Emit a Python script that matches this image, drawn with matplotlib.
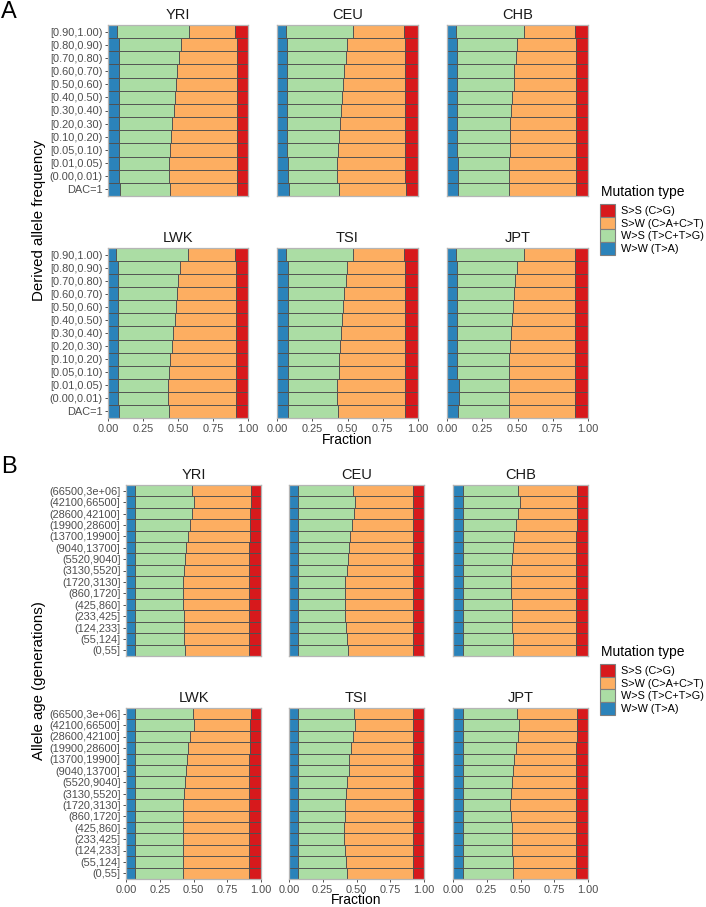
import numpy as np
import matplotlib
matplotlib.use("Agg")
import matplotlib.pyplot as plt
from matplotlib.patches import Patch

plt.rcParams['font.family'] = ['Liberation Sans', 'DejaVu Sans']

# === Categories (top row first) ===
freq_bins = ["[0.90,1.00)", "[0.80,0.90)", "[0.70,0.80)", "[0.60,0.70)", "[0.50,0.60)",
             "[0.40,0.50)", "[0.30,0.40)", "[0.20,0.30)", "[0.10,0.20)", "[0.05,0.10)",
             "[0.01,0.05)", "(0.00,0.01)", "DAC=1"]
age_bins = ["(66500,3e+06]", "(42100,66500]", "(28600,42100]", "(19900,28600]",
            "(13700,19900]", "(9040,13700]", "(5520,9040]", "(3130,5520]", "(1720,3130]",
            "(860,1720]", "(425,860]", "(233,425]", "(124,233]", "(55,124]", "(0,55]"]
pops = ["YRI", "CEU", "CHB", "LWK", "TSI", "JPT"]

type_labels = ["W>W (T>A)", "W>S (T>C+T>G)", "S>W (C>A+C>T)", "S>S (C>G)"]
type_colors = ["#2B83BA", "#ABDDA4", "#FDAE61", "#D7191C"]

# === Panel A: fractions by derived allele frequency ===
# W>W (T>A)
freq_ww = {
    "YRI": [0.064, 0.075, 0.075, 0.075, 0.075, 0.075, 0.075, 0.075, 0.075, 0.075, 0.075, 0.075, 0.087],
    "CEU": [0.064, 0.071, 0.071, 0.071, 0.071, 0.071, 0.071, 0.071, 0.071, 0.071, 0.078, 0.078, 0.087],
    "CHB": [0.062, 0.071, 0.071, 0.071, 0.071, 0.071, 0.071, 0.071, 0.071, 0.071, 0.078, 0.078, 0.076],
    "LWK": [0.059, 0.071, 0.071, 0.071, 0.071, 0.071, 0.071, 0.071, 0.071, 0.071, 0.071, 0.071, 0.078],
    "TSI": [0.064, 0.075, 0.075, 0.075, 0.075, 0.075, 0.075, 0.075, 0.075, 0.075, 0.075, 0.075, 0.080],
    "JPT": [0.064, 0.069, 0.069, 0.069, 0.069, 0.069, 0.069, 0.069, 0.069, 0.069, 0.083, 0.083, 0.078],
}
# W>S (T>C+T>G)
freq_ws = {
    "YRI": [0.512, 0.445, 0.431, 0.421, 0.412, 0.405, 0.396, 0.384, 0.374, 0.367, 0.360, 0.358, 0.358],
    "CEU": [0.477, 0.428, 0.416, 0.407, 0.400, 0.393, 0.385, 0.378, 0.371, 0.364, 0.350, 0.350, 0.355],
    "CHB": [0.483, 0.427, 0.417, 0.405, 0.401, 0.391, 0.384, 0.379, 0.375, 0.375, 0.365, 0.363, 0.365],
    "LWK": [0.515, 0.444, 0.428, 0.421, 0.414, 0.404, 0.395, 0.383, 0.373, 0.364, 0.359, 0.357, 0.355],
    "TSI": [0.477, 0.421, 0.412, 0.403, 0.396, 0.389, 0.381, 0.374, 0.367, 0.363, 0.353, 0.351, 0.353],
    "JPT": [0.480, 0.427, 0.416, 0.404, 0.397, 0.390, 0.383, 0.378, 0.373, 0.373, 0.357, 0.357, 0.362],
}
# S>S (C>G)
freq_ss = {
    "YRI": [0.094, 0.082, 0.082, 0.082, 0.082, 0.082, 0.082, 0.082, 0.082, 0.082, 0.082, 0.082, 0.082],
    "CEU": [0.096, 0.089, 0.089, 0.089, 0.089, 0.089, 0.089, 0.089, 0.089, 0.089, 0.089, 0.089, 0.085],
    "CHB": [0.092, 0.088, 0.088, 0.088, 0.088, 0.088, 0.088, 0.088, 0.088, 0.088, 0.088, 0.088, 0.083],
    "LWK": [0.095, 0.087, 0.087, 0.087, 0.087, 0.087, 0.087, 0.087, 0.087, 0.087, 0.087, 0.087, 0.087],
    "TSI": [0.099, 0.089, 0.089, 0.089, 0.089, 0.089, 0.089, 0.089, 0.089, 0.089, 0.089, 0.089, 0.089],
    "JPT": [0.095, 0.090, 0.090, 0.090, 0.090, 0.090, 0.090, 0.090, 0.090, 0.090, 0.090, 0.090, 0.090],
}

# === Panel B: fractions by allele age ===
age_ww = {
    "YRI": [0.067] * 15,
    "CEU": [0.069] * 15,
    "CHB": [0.074] * 15,
    "LWK": [0.067] * 15,
    "TSI": [0.069] * 15,
    "JPT": [0.074] * 15,
}
age_ws = {
    "YRI": [0.421, 0.435, 0.421, 0.406, 0.391, 0.378, 0.368, 0.361, 0.358, 0.356, 0.358, 0.361, 0.361, 0.363, 0.368],
    "CEU": [0.406, 0.421, 0.409, 0.399, 0.386, 0.379, 0.369, 0.357, 0.349, 0.347, 0.347, 0.349, 0.354, 0.362, 0.369],
    "CHB": [0.404, 0.419, 0.406, 0.391, 0.379, 0.369, 0.362, 0.354, 0.352, 0.357, 0.364, 0.364, 0.364, 0.367, 0.369],
    "LWK": [0.428, 0.435, 0.406, 0.391, 0.383, 0.376, 0.368, 0.361, 0.358, 0.356, 0.356, 0.356, 0.358, 0.358, 0.356],
    "TSI": [0.409, 0.421, 0.406, 0.391, 0.379, 0.372, 0.362, 0.354, 0.347, 0.344, 0.339, 0.339, 0.347, 0.354, 0.357],
    "JPT": [0.401, 0.414, 0.406, 0.391, 0.379, 0.372, 0.362, 0.354, 0.347, 0.357, 0.362, 0.362, 0.364, 0.369, 0.369],
}
age_ss = {
    "YRI": [0.077, 0.077, 0.080, 0.082, 0.085, 0.087, 0.087, 0.087, 0.087, 0.087, 0.087, 0.087, 0.087, 0.087, 0.087],
    "CEU": [0.079, 0.079, 0.082, 0.082, 0.082, 0.082, 0.082, 0.082, 0.082, 0.082, 0.082, 0.082, 0.082, 0.082, 0.082],
    "CHB": [0.079, 0.079, 0.082, 0.084, 0.087, 0.087, 0.087, 0.087, 0.087, 0.087, 0.087, 0.087, 0.087, 0.087, 0.087],
    "LWK": [0.077, 0.080, 0.082, 0.085, 0.087, 0.087, 0.087, 0.087, 0.087, 0.087, 0.087, 0.087, 0.087, 0.087, 0.087],
    "TSI": [0.079, 0.079, 0.084, 0.084, 0.084, 0.084, 0.084, 0.084, 0.084, 0.084, 0.084, 0.084, 0.084, 0.084, 0.084],
    "JPT": [0.079, 0.079, 0.084, 0.087, 0.087, 0.087, 0.087, 0.087, 0.087, 0.087, 0.087, 0.087, 0.087, 0.087, 0.087],
}

# === Layout (pixels) ===
W, H = 706, 907
fig = plt.figure(figsize=(W / 100, H / 100), dpi=100)

def px_axes(x0, x1, y0, y1):
    return fig.add_axes([x0 / W, 1 - y1 / H, (x1 - x0) / W, (y1 - y0) / H])

cols_a = [(108, 248), (277, 418), (447, 588)]
rows_a = [(25, 196), (248, 418)]
cols_b = [(126, 261), (289, 424), (453, 588)]
rows_b = [(485, 656), (708, 879)]

tick_col = "#4d4d4d"


def draw_facet(ax, cats, ww, ws, ss, title, show_y, show_x):
    ww = np.array(ww)
    ws = np.array(ws)
    ss = np.array(ss)
    sw = 1 - ww - ws - ss
    y = np.arange(len(cats))
    left = np.zeros(len(cats))
    for vals, col in zip([ww, ws, sw, ss], type_colors):
        ax.barh(y, vals, left=left, height=1.0, color=col,
                edgecolor="#505050", linewidth=0.65)
        left = left + vals
    ax.set_xlim(0, 1)
    ax.set_ylim(len(cats) - 0.5, -0.5)
    for s in ax.spines.values():
        s.set_color("#b5b5b5")
        s.set_linewidth(0.9)
    ax.set_title(title, fontsize=10.5, pad=4, color="#1a1a1a")
    ax.set_yticks(y)
    ax.set_xticks([0, 0.25, 0.5, 0.75, 1.0])
    ax.tick_params(labelsize=7.9, labelcolor=tick_col, color="#333333",
                   width=0.6, length=2.5, pad=1.5)
    if show_y:
        ax.set_yticklabels(cats)
    else:
        ax.set_yticklabels([])
        ax.tick_params(axis="y", length=0)
    if show_x:
        ax.set_xticklabels(["0.00", "0.25", "0.50", "0.75", "1.00"])
    else:
        ax.set_xticklabels([])
        ax.tick_params(axis="x", length=0)


def draw_panel(cols, rows, cats, ww, ws, ss):
    for i, pop in enumerate(pops):
        r, c = divmod(i, 3)
        ax = px_axes(cols[c][0], cols[c][1], rows[r][0], rows[r][1])
        draw_facet(ax, cats, ww[pop], ws[pop], ss[pop], pop,
                   show_y=(c == 0), show_x=(r == 1))


draw_panel(cols_a, rows_a, freq_bins, freq_ww, freq_ws, freq_ss)
draw_panel(cols_b, rows_b, age_bins, age_ww, age_ws, age_ss)

# axis titles
fig.text(347.5 / W, 1 - 440 / H, "Fraction", fontsize=10, ha="center", va="center")
fig.text(356.5 / W, 1 - 900 / H, "Fraction", fontsize=10, ha="center", va="center")
fig.text(39 / W, 1 - 220 / H, "Derived allele frequency", fontsize=10.8,
         rotation=90, ha="center", va="center")
fig.text(39 / W, 1 - 681 / H, "Allele age (generations)", fontsize=10.8,
         rotation=90, ha="center", va="center")

# panel letters
fig.text(1 / W, 1 - 12 / H, "A", fontsize=17, ha="left", va="center")
fig.text(1 / W, 1 - 467 / H, "B", fontsize=17, ha="left", va="center")

# legends
handles = [Patch(facecolor=type_colors[i], edgecolor="#7f7f7f", linewidth=0.8,
                 label=type_labels[i]) for i in [3, 2, 1, 0]]
for ytitle, ykeys in [(192, 204), (652, 664)]:
    fig.text(601 / W, 1 - ytitle / H, "Mutation type", fontsize=10,
             ha="left", va="center")
    fig.legend(handles=handles, loc="upper left",
               bbox_to_anchor=(600 / W, 1 - ykeys / H), frameon=False,
               fontsize=7.8, handlelength=1.4, handleheight=1.42,
               labelspacing=0.0, handletextpad=0.55,
               borderpad=0, borderaxespad=0)

fig.savefig("out.png", dpi=100)
